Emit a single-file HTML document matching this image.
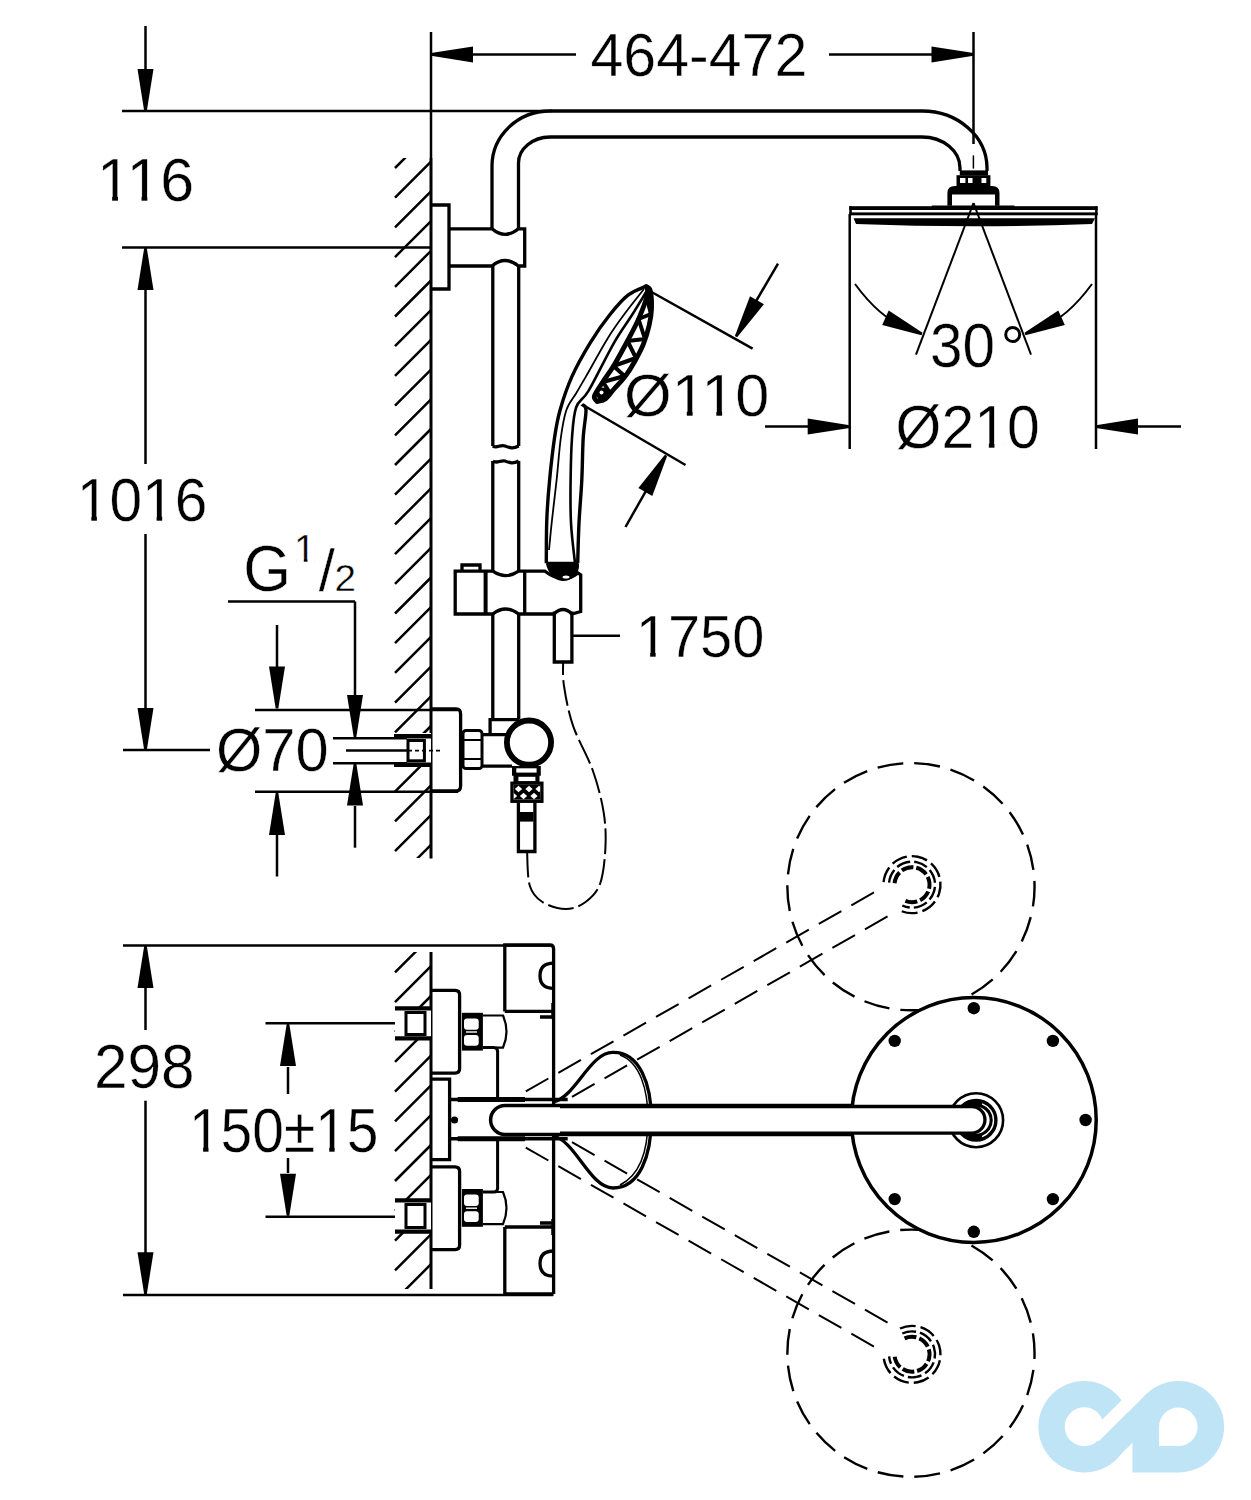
<!DOCTYPE html>
<html><head><meta charset="utf-8"><style>
html,body{margin:0;padding:0;background:#fff;}
svg{display:block;}
text{font-family:"Liberation Sans",sans-serif;fill:#000;stroke:#fff;stroke-width:0.4px;}
</style></head><body>
<svg width="1251" height="1500" viewBox="0 0 1251 1500" stroke="#000" stroke-linecap="butt" fill="none">
<rect x="0" y="0" width="1251" height="1500" fill="#fff" stroke="none"/>
<line x1="145.5" y1="26.0" x2="145.5" y2="100.0" stroke-width="2.5" />
<polygon points="144.2,111.0 137.5,69.0 153.5,69.0 146.8,111.0" fill="#000" stroke="none"/>
<line x1="122.0" y1="111.0" x2="552.0" y2="111.0" stroke-width="2.5" />
<line x1="122.0" y1="247.5" x2="431.0" y2="247.5" stroke-width="2.5" />
<line x1="145.5" y1="290.0" x2="145.5" y2="464.0" stroke-width="2.5" />
<polygon points="146.8,248.0 153.5,290.0 137.5,290.0 144.2,248.0" fill="#000" stroke="none"/>
<line x1="145.5" y1="534.0" x2="145.5" y2="740.0" stroke-width="2.5" />
<polygon points="144.2,750.0 137.5,708.0 153.5,708.0 146.8,750.0" fill="#000" stroke="none"/>
<line x1="123.0" y1="750.0" x2="210.0" y2="750.0" stroke-width="2.5" />
<text transform="translate(96.99,201.0) scale(1.0523,1.05)" x="0" y="0" font-size="58">116</text>
<text transform="translate(76.75,521.0) scale(1.0123,1.065)" x="0" y="0" font-size="58">1016</text>
<line x1="431.0" y1="32.0" x2="431.0" y2="158.0" stroke-width="2.5" />
<line x1="973.5" y1="32.0" x2="973.5" y2="144.0" stroke-width="2.5" />
<line x1="440.0" y1="54.4" x2="576.0" y2="54.4" stroke-width="2.5" />
<polygon points="431.0,53.1 473.0,46.4 473.0,62.4 431.0,55.7" fill="#000" stroke="none"/>
<line x1="829.0" y1="54.4" x2="965.0" y2="54.4" stroke-width="2.5" />
<polygon points="973.5,55.7 931.5,62.4 931.5,46.4 973.5,53.1" fill="#000" stroke="none"/>
<text transform="translate(590.48,75.8) scale(1.0191,1.055)" x="0" y="0" font-size="58">464-472</text>
<line x1="431.0" y1="158.0" x2="431.0" y2="858.5" stroke-width="3" />
<clipPath id="c1"><rect x="390" y="158" width="42" height="700"/></clipPath>
<path d="M395,138.3 L431,102.3 M395,168.0 L431,132.0 M395,197.7 L431,161.7 M395,227.4 L431,191.4 M395,257.1 L431,221.1 M395,286.8 L431,250.8 M395,316.5 L431,280.5 M395,346.2 L431,310.2 M395,375.9 L431,339.9 M395,405.6 L431,369.6 M395,435.3 L431,399.3 M395,465.0 L431,429.0 M395,494.7 L431,458.7 M395,524.4 L431,488.4 M395,554.1 L431,518.1 M395,583.8 L431,547.8 M395,613.5 L431,577.5 M395,643.2 L431,607.2 M395,672.9 L431,636.9 M395,702.6 L431,666.6 M395,732.3 L431,696.3 M395,762.0 L431,726.0 M395,791.7 L431,755.7 M395,821.4 L431,785.4 M395,851.1 L431,815.1 M395,880.8 L431,844.8 M395,910.5 L431,874.5" stroke-width="2.5" fill="none" clip-path="url(#c1)"/>
<path d="M492,229 L492,166 A58,55 0 0 1 550,111 L922,111 A65,57 0 0 1 987,168 L987,171" stroke-width="3.3" fill="none" />
<path d="M518.5,229 L518.5,163 A32,26 0 0 1 550,137 L922,137 A38,31 0 0 1 960,168 L960,171" stroke-width="3.3" fill="none" />
<path d="M432,205 L449,205 L449,289 L432,289" stroke-width="3.3" fill="none" />
<path d="M449,228.8 L492,228.8 Q505,240 518.5,228.8 L524.7,228.8 L524.7,266 L518.5,266 Q505,255 492,266 L449,266" stroke-width="3.3" fill="none" />
<path d="M492.8,266 L492.8,446 M518.7,266 L518.7,446" stroke-width="3.3" fill="none" />
<path d="M492.8,446 C497,449 500,444 505,446 C510,448 513,449 518.7,446" stroke-width="3.3" fill="none" />
<path d="M492.8,461 C497,464 500,460 505,461 C510,463 513,464 518.7,461" stroke-width="3.3" fill="none" />
<path d="M492.8,461 L492.8,571 M518.7,461 L518.7,571" stroke-width="3.3" fill="none" />
<path d="M455.2,571.2 L492.8,571.2 Q505.7,580 518.7,571.2 L545,571.2 Q563,585 578,573 L580.7,574.8 L580.7,611.5 L572,614 Q563,605 554,614 L518.7,614 Q505.7,604 492.8,614 L455.2,614 Z" stroke-width="3.3" fill="none" />
<line x1="485.6" y1="571.0" x2="485.6" y2="614.0" stroke-width="4" />
<line x1="524.7" y1="571.0" x2="524.7" y2="614.0" stroke-width="3.3" />
<path d="M462,572 L462,565 L480,565 L480,572" stroke-width="3.3" fill="none" />
<path d="M492.8,614 L492.8,719 M518.7,614 L518.7,719" stroke-width="3.3" fill="none" />
<path d="M554.3,611.5 L554.3,662 L571.9,662 L571.9,611.5" stroke-width="3.3" fill="none" />
<line x1="572.0" y1="635.8" x2="620.0" y2="635.8" stroke-width="2.5" />
<text transform="translate(635.82,656.8) scale(0.9959,1.035)" x="0" y="0" font-size="58">1750</text>
<path d="M646.2,286.1 C643.2,287.6 634.1,290.4 628.0,295.2 C621.9,300.0 616.1,306.9 609.8,314.8 C603.5,322.7 596.5,332.5 590.2,342.8 C583.9,353.1 577.0,365.2 572.0,376.4 C567.0,387.6 563.0,399.7 560.1,410.0 C557.2,420.3 556.2,426.3 554.5,438.0 C552.8,449.7 550.9,466.3 549.6,480.0 C548.3,493.7 547.3,506.1 546.8,520.0 C546.2,533.9 546.4,556.1 546.3,563.3" stroke-width="3.4" fill="none" />
<path d="M644.0,289.0 C641.0,292.8 631.9,304.0 626.0,312.0 C620.1,320.0 615.1,326.5 608.4,337.2 C601.7,347.9 591.4,367.1 586.0,376.4 C580.6,385.7 579.5,387.6 576.2,393.2 C572.9,398.8 569.0,402.5 566.4,410.0 C563.8,417.5 562.4,426.3 560.8,438.0 C559.2,449.7 558.1,466.3 556.6,480.0 C555.1,493.7 553.3,508.3 552.0,520.0 C550.7,531.7 549.5,545.0 549.0,550.0" stroke-width="1.8" fill="none" />
<path d="M648.0,289.0 C645.3,293.3 637.7,306.0 632.0,315.0 C626.3,324.0 621.2,330.2 614.0,342.8 C606.8,355.4 595.1,379.7 588.8,390.4 C582.5,401.1 579.0,399.3 576.2,407.2 C573.4,415.1 572.9,425.9 572.0,438.0 C571.1,450.1 570.8,465.8 570.6,480.0 C570.4,494.2 570.3,509.2 571.0,523.0 C571.7,536.8 574.3,556.3 575.0,563.0" stroke-width="2.6" fill="none" />
<path d="M581.8,404.4 C582.5,405.3 585.8,404.4 586.0,410.0 C586.2,415.6 583.9,426.3 583.2,438.0 C582.5,449.7 582.5,465.8 581.8,480.0 C581.1,494.2 579.7,509.1 579.0,523.0 C578.3,536.9 577.9,556.6 577.7,563.3" stroke-width="3.4" fill="none" />
<path d="M546.3,563.3 L578.5,563.3" stroke-width="3.2" fill="none" />
<path d="M646.2,286.5 C646.9,287.2 649.5,287.2 650.4,291.0 C651.3,294.8 651.7,303.4 651.5,309.2 C651.3,315.0 650.4,320.2 649.0,326.0 C647.6,331.8 645.7,338.4 643.4,344.2 C641.1,350.0 638.0,355.6 635.0,361.0 C632.0,366.4 628.7,371.7 625.2,376.4 C621.7,381.1 617.3,385.3 614.0,389.0 C610.7,392.7 608.4,396.7 605.6,398.8 C602.8,400.9 598.6,401.1 597.2,401.6 L597.2,401.6 C596.7,400.7 593.5,399.3 594.4,396.0 C595.3,392.7 599.5,387.1 602.8,382.0 C606.1,376.9 609.8,372.2 614.0,365.2 C618.2,358.2 623.8,347.9 628.0,340.0 C632.2,332.1 635.9,325.3 639.2,317.6 C642.5,309.9 646.4,299.0 647.6,293.8 C648.8,288.6 646.4,287.7 646.2,286.5 Z" stroke-width="4.8" fill="#fff" stroke-linejoin="round"/>
<path d="M646.5,297 L651,314 L638.5,319 L645,339 L627.5,341 L636,358 L613.5,366 L624.5,376 L603,382 L610,393" stroke-width="4" fill="none" stroke-linejoin="round"/>
<circle cx="602.5" cy="394" r="6.5" fill="#000" stroke="none"/>
<circle cx="601.5" cy="392.5" r="2" fill="#fff" stroke="none"/>
<path d="M546,564 L579,564 C580,575 570,582 562,581 C553,580 548,572 546,564 Z" fill="#000" stroke="none"/>
<ellipse cx="566" cy="577" rx="3.5" ry="1.6" fill="#fff" stroke="none"/>
<line x1="648.0" y1="290.0" x2="752.6" y2="348.7" stroke-width="2.5" />
<line x1="583.0" y1="405.0" x2="685.5" y2="465.0" stroke-width="2.5" />
<line x1="778.0" y1="263.6" x2="745.0" y2="320.0" stroke-width="2.5" />
<polygon points="734.9,336.1 750.0,296.3 763.9,304.3 737.1,337.3" fill="#000" stroke="none"/>
<line x1="625.5" y1="527.0" x2="655.0" y2="475.0" stroke-width="2.5" />
<polygon points="667.1,456.0 652.3,495.9 638.4,488.0 664.9,454.8" fill="#000" stroke="none"/>
<text transform="translate(624.03,415.97) scale(1.0553,1.0256)" x="0" y="0" font-size="58">Ø110</text>
<line x1="849.7" y1="214.0" x2="849.7" y2="449.0" stroke-width="2.5" />
<line x1="1096.0" y1="214.0" x2="1096.0" y2="449.0" stroke-width="2.5" />
<line x1="765.0" y1="426.6" x2="820.0" y2="426.6" stroke-width="2.5" />
<polygon points="849.7,427.9 807.7,434.6 807.7,418.6 849.7,425.3" fill="#000" stroke="none"/>
<line x1="1120.0" y1="426.6" x2="1181.0" y2="426.6" stroke-width="2.5" />
<polygon points="1096.0,425.3 1138.0,418.6 1138.0,434.6 1096.0,427.9" fill="#000" stroke="none"/>
<text transform="translate(895.55,448.24) scale(1.0168,1.0581)" x="0" y="0" font-size="58">Ø210</text>
<line x1="973.4" y1="155.4" x2="973.4" y2="168.6" stroke-width="1.5" />
<rect x="959.8" y="170.4" width="28.2" height="5" fill="#000" stroke="none"/>
<rect x="956.5" y="175.2" width="33.9" height="10.8" fill="#000" stroke="none"/>
<rect x="960" y="178" width="5.399999999999977" height="5" fill="#fff" stroke="none"/>
<rect x="968" y="178" width="4.5" height="5" fill="#fff" stroke="none"/>
<rect x="981.5" y="178" width="4.7999999999999545" height="5" fill="#fff" stroke="none"/>
<path d="M947.4,205.8 L947.4,193 Q947.4,186 955,186 L992,186 Q999.5,186 999.5,193 L999.5,205.8 L995,205.8 L995,194.4 L952,194.4 L952,205.8 Z" fill="#000" stroke="none"/>
<path d="M931.8,206.5 L1014.5,206.5" stroke-width="2" fill="none" />
<rect x="849.3" y="206.2" width="248.3" height="3.8" fill="#000" stroke="none"/>
<rect x="849.3" y="212.4" width="248.3" height="2.9" fill="#000" stroke="none"/>
<rect x="849.3" y="206.2" width="2.5" height="9" fill="#000" stroke="none"/>
<rect x="1095.1" y="206.2" width="2.5" height="9" fill="#000" stroke="none"/>
<path d="M853.6,218.3 L1095,218.3 L1092,224 Q973,228.5 856,224 Z" fill="#000" stroke="none"/>
<line x1="973.5" y1="203.0" x2="916.0" y2="354.6" stroke-width="2" />
<line x1="973.5" y1="203.0" x2="1031.0" y2="354.6" stroke-width="2" />
<path d="M855,284 Q880,318 905,327" stroke-width="2" fill="none" />
<polygon points="921.5,335.2 882.2,325.1 888.7,310.4 922.5,332.8" fill="#000" stroke="none"/>
<path d="M1092,284 Q1067,318 1042,327" stroke-width="2" fill="none" />
<polygon points="1024.5,332.8 1058.3,310.4 1064.8,325.1 1025.5,335.2" fill="#000" stroke="none"/>
<text transform="translate(929.88,367.1) scale(1.0083,1.07)" x="0" y="0" font-size="58">30</text>
<circle cx="1012.7" cy="334.5" r="7" fill="none" stroke-width="3"/>
<text transform="translate(243.33,590.9) scale(1.0579,1.12)" x="0" y="0" font-size="58">G</text>
<text transform="translate(294.1,561.5) scale(1.0,0.9963)" x="0" y="0" font-size="39">1</text>
<text transform="translate(318.7,590.9) scale(1.0,1.0357)" x="0" y="0" font-size="58">/</text>
<text transform="translate(334.56,590.9) scale(1.0176,0.9741)" x="0" y="0" font-size="38">2</text>
<line x1="228.0" y1="601.5" x2="355.0" y2="601.5" stroke-width="2.5" />
<line x1="355.0" y1="601.5" x2="355.0" y2="700.0" stroke-width="2.5" />
<polygon points="353.7,737.0 347.0,695.0 363.0,695.0 356.3,737.0" fill="#000" stroke="none"/>
<line x1="355.0" y1="806.0" x2="355.0" y2="847.7" stroke-width="2.5" />
<polygon points="356.3,763.6 363.0,805.6 347.0,805.6 353.7,763.6" fill="#000" stroke="none"/>
<line x1="277.0" y1="625.0" x2="277.0" y2="670.0" stroke-width="2.5" />
<polygon points="275.7,708.6 269.0,666.6 285.0,666.6 278.3,708.6" fill="#000" stroke="none"/>
<line x1="277.0" y1="835.0" x2="277.0" y2="876.5" stroke-width="2.5" />
<polygon points="278.3,793.0 285.0,835.0 269.0,835.0 275.7,793.0" fill="#000" stroke="none"/>
<line x1="255.0" y1="710.0" x2="458.0" y2="710.0" stroke-width="2.5" />
<line x1="255.0" y1="791.7" x2="458.0" y2="791.7" stroke-width="2.5" />
<text transform="translate(215.92,771.06) scale(1.0279,1.0419)" x="0" y="0" font-size="58">Ø70</text>
<rect x="394" y="733" width="37" height="34" fill="#fff" stroke="none"/>
<path d="M394,736.3 L431,736.3 M394,764.7 L431,764.7" stroke-width="4.5" fill="none" />
<rect x="408" y="740.5" width="16.4" height="20.3" fill="none" stroke-width="3"/>
<path d="M408,750.6 L440,750.6" stroke-width="1.8" fill="none" stroke-dasharray="4,3"/>
<line x1="333.0" y1="738.3" x2="407.0" y2="738.3" stroke-width="2.5" />
<line x1="333.0" y1="763.2" x2="407.0" y2="763.2" stroke-width="2.5" />
<line x1="346.0" y1="750.6" x2="407.0" y2="750.6" stroke-width="2.5" />
<path d="M431.5,708.9 L456,708.9 Q460.6,708.9 460.6,714 L460.6,786 Q460.6,791 456,791 L431.5,791" stroke-width="3.3" fill="none" />
<rect x="463" y="730.5" width="19" height="38" rx="3" fill="none" stroke-width="3"/>
<path d="M463,740 L482,740 M463,759 L482,759" stroke-width="2" fill="none" />
<path d="M483,734.6 L506,734.6 M483,766.2 L512,766.2" stroke-width="3.3" fill="none" />
<path d="M490.1,734 L490.1,719.6 L519,719.6" stroke-width="3.3" fill="none" />
<circle cx="529" cy="742.6" r="22.1" fill="#fff" stroke-width="5.8"/>
<path d="M512,766 L540.8,766 L540.8,775.7 L539.5,775.7 L539.5,783.2 L513.5,783.2 L513.5,775.7 L512,775.7 Z" fill="#000" stroke="none"/>
<rect x="516.3" y="768.3" width="20.3" height="4.3" fill="#fff" stroke="none"/>
<rect x="518.4" y="776.8" width="17" height="4.3" fill="#fff" stroke="none"/>
<rect x="513.7" y="784.9" width="26.5" height="14.7" fill="#000" stroke="none"/>
<polygon points="518.5,785.7 522.1,789 518.5,792.3 514.9,789" fill="#fff" stroke="none"/>
<polygon points="529,785.7 532.6,789 529,792.3 525.4,789" fill="#fff" stroke="none"/>
<polygon points="539,785.7 542.6,789 539,792.3 535.4,789" fill="#fff" stroke="none"/>
<polygon points="523.5,792.7 527.1,796 523.5,799.3 519.9,796" fill="#fff" stroke="none"/>
<polygon points="534,792.7 537.6,796 534,799.3 530.4,796" fill="#fff" stroke="none"/>
<polygon points="513.5,792.7 517.1,796 513.5,799.3 509.9,796" fill="#fff" stroke="none"/>
<rect x="512" y="783.2" width="29.9" height="18.1" fill="none" stroke-width="3.3"/>
<path d="M518.4,801.3 L518.4,851.5 L534.9,851.5 L534.9,801.3" stroke-width="3.3" fill="none" />
<rect x="519.5" y="812" width="14" height="9.6" fill="#000" stroke="none"/>
<path d="M527.1,851.5 C527.5,857.2 527.2,877.3 529.8,885.7 C532.3,894.1 536.4,898.1 542.4,902.0 C548.4,905.9 558.6,909.0 565.8,909.0 C573.0,909.0 579.9,906.2 585.6,902.0 C591.3,897.8 596.7,893.0 600.0,884.0 C603.3,875.0 604.8,860.0 605.4,848.0 C606.0,836.0 605.7,824.9 603.6,812.0 C601.5,799.1 597.9,784.9 592.8,770.5 C587.7,756.1 577.8,739.7 573.0,725.6 C568.2,711.5 565.6,696.5 564.0,686.0 C562.4,675.5 563.2,666.5 563.1,662.6" stroke-width="2" fill="none" stroke-dasharray="26,5"/>
<line x1="123.0" y1="945.6" x2="553.0" y2="945.6" stroke-width="2.5" />
<line x1="123.0" y1="1294.9" x2="553.0" y2="1294.9" stroke-width="2.5" />
<line x1="145.5" y1="988.0" x2="145.5" y2="1030.0" stroke-width="2.5" />
<polygon points="146.8,946.0 153.5,988.0 137.5,988.0 144.2,946.0" fill="#000" stroke="none"/>
<line x1="145.5" y1="1100.7" x2="145.5" y2="1253.0" stroke-width="2.5" />
<polygon points="144.2,1294.2 137.5,1252.2 153.5,1252.2 146.8,1294.2" fill="#000" stroke="none"/>
<text transform="translate(93.88,1087.6) scale(1.0407,1.08)" x="0" y="0" font-size="58">298</text>
<line x1="288.0" y1="1067.0" x2="288.0" y2="1094.0" stroke-width="2.5" />
<polygon points="289.3,1024.0 296.0,1066.0 280.0,1066.0 286.7,1024.0" fill="#000" stroke="none"/>
<line x1="288.0" y1="1158.0" x2="288.0" y2="1173.0" stroke-width="2.5" />
<polygon points="286.7,1215.8 280.0,1173.8 296.0,1173.8 289.3,1215.8" fill="#000" stroke="none"/>
<line x1="265.5" y1="1023.3" x2="415.7" y2="1023.3" stroke-width="2.5" />
<line x1="265.5" y1="1216.7" x2="415.7" y2="1216.7" stroke-width="2.5" />
<text transform="translate(188.97,1152.3) scale(0.9813,1.08)" x="0" y="0" font-size="58">150±15</text>
<line x1="431.0" y1="952.0" x2="431.0" y2="1289.0" stroke-width="3" />
<clipPath id="c2"><rect x="390" y="952" width="42" height="337"/></clipPath>
<path d="M395,942.6 L431,906.6 M395,972.4 L431,936.4 M395,1002.2 L431,966.2 M395,1032.0 L431,996.0 M395,1061.8 L431,1025.8 M395,1091.6 L431,1055.6 M395,1121.4 L431,1085.4 M395,1151.2 L431,1115.2 M395,1181.0 L431,1145.0 M395,1210.8 L431,1174.8 M395,1240.6 L431,1204.6 M395,1270.4 L431,1234.4 M395,1300.2 L431,1264.2" stroke-width="2.5" fill="none" clip-path="url(#c2)"/>
<rect x="395" y="1008.4" width="36" height="30.000000000000114" fill="#fff" stroke="none"/>
<path d="M395,1008.4 L431,1008.4 M395,1038.4 L431,1038.4" stroke-width="4.2" fill="none" />
<rect x="406" y="1012.5" width="19" height="22.0" fill="none" stroke-width="3"/>
<rect x="395" y="1200.4" width="36" height="31.199999999999818" fill="#fff" stroke="none"/>
<path d="M395,1200.4 L431,1200.4 M395,1231.6 L431,1231.6" stroke-width="4.2" fill="none" />
<rect x="406" y="1204.5" width="19" height="23.0" fill="none" stroke-width="3"/>
<path d="M431.6,990.4 L455,990.4 Q459.6,990.4 459.6,995.0 L459.6,1068.6000000000001 Q459.6,1073.2 455,1073.2 L431.6,1073.2" stroke-width="3.3" fill="none" />
<path d="M431.6,1166.8 L455,1166.8 Q459.6,1166.8 459.6,1171.3999999999999 L459.6,1245.0 Q459.6,1249.6 455,1249.6 L431.6,1249.6" stroke-width="3.3" fill="none" />
<path d="M431.6,1079.2 L449.6,1079.2 L449.6,1159.6 L431.6,1159.6" stroke-width="3.3" fill="none" />
<rect x="461.9" y="1012.8" width="21" height="37.799999999999955" fill="#000" stroke="none"/>
<rect x="464" y="1018.4" width="14.7" height="11.3" rx="3" fill="#fff" stroke="none"/>
<rect x="464" y="1035.1" width="14.7" height="10.6" rx="3" fill="#fff" stroke="none"/>
<rect x="466" y="1031.3" width="11" height="1.4" fill="#fff" stroke="none"/>
<path d="M482.9,1015.5 L503,1015.5 Q510,1031.7 503,1047.6 L496,1047.6" stroke-width="2.2" fill="none" />
<path d="M482.9,1047.6 L494,1047.6 Q497.6,1047.7 497.6,1051.7" stroke-width="3" fill="none" />
<rect x="461.9" y="1189" width="21" height="37.799999999999955" fill="#000" stroke="none"/>
<rect x="464" y="1194.6" width="14.7" height="11.3" rx="3" fill="#fff" stroke="none"/>
<rect x="464" y="1211.3" width="14.7" height="10.6" rx="3" fill="#fff" stroke="none"/>
<rect x="466" y="1207.5" width="11" height="1.4" fill="#fff" stroke="none"/>
<path d="M482.9,1224.1 L503,1224.1 Q510,1207.9 503,1192.0 L496,1192.0" stroke-width="2.2" fill="none" />
<path d="M482.9,1192.0 L494,1192.0 Q497.6,1191.9 497.6,1187.9" stroke-width="3" fill="none" />
<path d="M497.6,1050.6 L497.6,1098 M497.6,1139 L497.6,1189" stroke-width="3" fill="none" />
<path d="M504.8,1011.4 L504.8,945 L550,945 Q553.6,945 553.6,949 L553.6,1294" stroke-width="3.3" fill="none" />
<path d="M504.8,1227 L504.8,1294 L553.6,1294" stroke-width="3.3" fill="none" />
<path d="M504.8,1011.4 L553.6,1011.4 M504.8,1227 L553.6,1227" stroke-width="3.3" fill="none" />
<path d="M553.6,963.1 Q540,963.1 540,975.7 Q540,988.3 553.6,988.3 M553.6,1251 Q540,1251 540,1263.6 Q540,1276.2 553.6,1276.2" stroke-width="3.3" fill="none" />
<path d="M553,1003 L553,1019 M540,1017 L552,1017 M553,1219 L553,1235 M540,1223 L552,1223" stroke-width="3.5" fill="none" />
<path d="M449.6,1099.6 L567.7,1099.6 M449.6,1138.8 L567.7,1138.8" stroke-width="3.5" fill="none" />
<path d="M457.7,1099.6 L525,1099.6 M457.7,1138.8 L525,1138.8" stroke-width="5" fill="none" />
<circle cx="454.5" cy="1120" r="3.6" fill="#000" stroke="none"/>
<rect x="489" y="1105" width="80" height="29.6" fill="#fff" stroke="none"/>
<path d="M553,1102 C575,1098 590,1052 612.9,1052.4 C640,1052 651.3,1085 651.3,1119 C651.3,1155 640,1188 612.9,1188 C590,1188 575,1140 553,1136" stroke-width="3.3" fill="none" />
<path d="M620,1055 C640,1062 648,1090 648,1119 C648,1150 640,1175 620,1185" stroke-width="1.5" fill="none" />
<path d="M975,1105.6 L505,1105.6 A14.4,14.4 0 0 0 505,1134.4 L975,1134.4" fill="#fff" stroke-width="3.5"/>
<path d="M525.8,1091.4 L883.4,887.0 M572,1096.9 L891.8,914.0" stroke-width="2" fill="none" stroke-dasharray="26,11.5"/>
<path d="M525.8,1147.6 L883.4,1352.0 M572,1142.1 L891.8,1325.0" stroke-width="2" fill="none" stroke-dasharray="26,11.5"/>
<circle cx="910.95" cy="886.7" r="123.6" fill="none" stroke-width="2.4" stroke-dasharray="26,10.98" stroke-dashoffset="6.2"/>
<circle cx="910.95" cy="1353.2" r="123.6" fill="none" stroke-width="2.4" stroke-dasharray="26,10.98" stroke-dashoffset="20.2"/>
<path d="M883.6,882.2 A28.5,28.5 0 1 1 900.0,910.5" fill="none" stroke-width="2.4" stroke-dasharray="16,5"/>
<path d="M889.1,882.7 A23,23 0 1 1 902.3,905.5" fill="none" stroke-width="2.4" stroke-dasharray="14,4"/>
<path d="M894.6,883.2 A17.5,17.5 0 1 1 904.6,900.6" fill="none" stroke-width="4" stroke-dasharray="12,3"/>
<path d="M900.0,1328.5 A28.5,28.5 0 1 1 883.6,1356.8" fill="none" stroke-width="2.4" stroke-dasharray="16,5"/>
<path d="M902.3,1333.5 A23,23 0 1 1 889.1,1356.3" fill="none" stroke-width="2.4" stroke-dasharray="14,4"/>
<path d="M904.6,1338.4 A17.5,17.5 0 1 1 894.6,1355.8" fill="none" stroke-width="4" stroke-dasharray="12,3"/>
<circle cx="973.8" cy="1120" r="122.4" fill="#fff" stroke-width="3.5"/>
<circle cx="973.8" cy="1008.2" r="6.2" fill="#000" stroke="none"/>
<circle cx="1052.9" cy="1040.9" r="6.2" fill="#000" stroke="none"/>
<circle cx="894.7" cy="1040.9" r="6.2" fill="#000" stroke="none"/>
<circle cx="1085.6" cy="1120.0" r="6.2" fill="#000" stroke="none"/>
<circle cx="1052.9" cy="1199.1" r="6.2" fill="#000" stroke="none"/>
<circle cx="894.7" cy="1199.1" r="6.2" fill="#000" stroke="none"/>
<circle cx="973.8" cy="1231.8" r="6.2" fill="#000" stroke="none"/>
<circle cx="976.1" cy="1120.2" r="27" fill="#fff" stroke-width="2.6"/>
<circle cx="976.1" cy="1120.2" r="17.5" fill="none" stroke-width="8"/>
<path d="M982.1,1103.8 A17.5,17.5 0 0 1 982.1,1136.6" fill="none" stroke="#fff" stroke-width="1.4"/>
<path d="M560,1106.5 L971.7,1106.5 A13.3,13.3 0 0 1 971.7,1133.1 L560,1133.1" fill="#fff" stroke-width="3.3"/>
<g transform="matrix(1.052299976348877,0,0,1.0499999523162842,96.98999786376953,201)" fill="#fff" stroke="none"><rect x="3.60" y="-4.90" width="10.80" height="6.60"/><rect x="19.90" y="-4.90" width="10.20" height="6.60"/></g>
<g transform="matrix(1.052299976348877,0,0,1.0499999523162842,96.98999786376953,201)" fill="#fff" stroke="none"><rect x="31.53" y="-4.90" width="10.80" height="6.60"/><rect x="47.83" y="-4.90" width="10.20" height="6.60"/></g>
<g transform="matrix(1.0123000144958496,0,0,1.065000057220459,76.75,521)" fill="#fff" stroke="none"><rect x="3.60" y="-4.90" width="10.80" height="6.60"/><rect x="19.90" y="-4.90" width="10.20" height="6.60"/></g>
<g transform="matrix(1.0123000144958496,0,0,1.065000057220459,76.75,521)" fill="#fff" stroke="none"><rect x="68.10" y="-4.90" width="10.80" height="6.60"/><rect x="84.40" y="-4.90" width="10.20" height="6.60"/></g>
<g transform="matrix(0.9958999752998352,0,0,1.034999966621399,635.8200073242188,656.7999877929688)" fill="#fff" stroke="none"><rect x="3.60" y="-4.90" width="10.80" height="6.60"/><rect x="19.90" y="-4.90" width="10.20" height="6.60"/></g>
<g transform="matrix(1.055299997329712,0,0,1.0255999565124512,624.030029296875,415.9700012207031)" fill="#fff" stroke="none"><rect x="48.69" y="-4.90" width="10.80" height="6.60"/><rect x="64.99" y="-4.90" width="10.20" height="6.60"/></g>
<g transform="matrix(1.055299997329712,0,0,1.0255999565124512,624.030029296875,415.9700012207031)" fill="#fff" stroke="none"><rect x="76.65" y="-4.90" width="10.80" height="6.60"/><rect x="92.95" y="-4.90" width="10.20" height="6.60"/></g>
<g transform="matrix(1.016800045967102,0,0,1.0580999851226807,895.5499877929688,448.239990234375)" fill="#fff" stroke="none"><rect x="80.95" y="-4.90" width="10.80" height="6.60"/><rect x="97.25" y="-4.90" width="10.20" height="6.60"/></g>
<g transform="matrix(1,0,0,0.9962999820709229,294.1000061035156,561.5)" fill="#fff" stroke="none"><rect x="2.42" y="-3.29" width="7.26" height="4.44"/><rect x="13.38" y="-3.29" width="6.86" height="4.44"/></g>
<g transform="matrix(0.9812999963760376,0,0,1.0800000429153442,188.97000122070312,1152.300048828125)" fill="#fff" stroke="none"><rect x="3.60" y="-4.90" width="10.80" height="6.60"/><rect x="19.90" y="-4.90" width="10.20" height="6.60"/></g>
<g transform="matrix(0.9812999963760376,0,0,1.0800000429153442,188.97000122070312,1152.300048828125)" fill="#fff" stroke="none"><rect x="132.15" y="-4.90" width="10.80" height="6.60"/><rect x="148.45" y="-4.90" width="10.20" height="6.60"/></g>
<g fill="#bee4f5" stroke="none"><circle cx="1084.2" cy="1426.8" r="45.8"/><path d="M1132.5,1472.6 L1132.5,1426.8 A45.8,45.8 0 1 1 1178.3,1472.6 Z"/></g>
<g fill="#fff" stroke="none"><circle cx="1084.2" cy="1426.8" r="19.5"/><path d="M1159,1446.1 L1159,1426.8 A19.3,19.3 0 1 1 1178.3,1446.1 Z"/><polygon points="1089.7,1432.1 1098.9,1441.3 1137.8,1402.4 1128.6,1393.2"/></g>
<polygon points="1097.2,1443.3 1114.6,1460.5 1164.6,1410.5 1147.2,1393.3" fill="#bee4f5" stroke="none"/>
</svg>
</body></html>
